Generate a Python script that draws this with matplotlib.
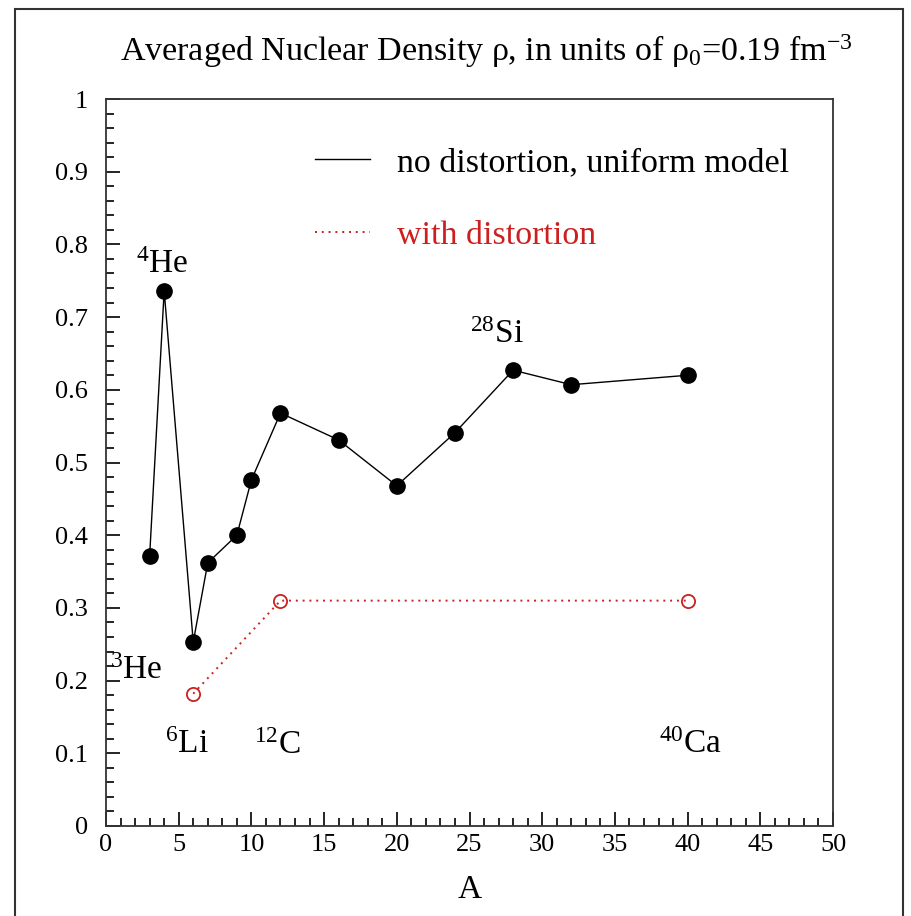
import numpy as np
import matplotlib
matplotlib.use('Agg')
import matplotlib.pyplot as plt
from matplotlib.lines import Line2D
from matplotlib.ticker import MultipleLocator

plt.rcParams['font.family'] = ['Liberation Serif', 'DejaVu Serif']
plt.rcParams['mathtext.fontset'] = 'custom'
plt.rcParams['mathtext.rm'] = 'Liberation Serif'
plt.rcParams['mathtext.it'] = 'Liberation Serif:italic'

# data
A_uniform = [3, 4, 6, 7, 9, 10, 12, 16, 20, 24, 28, 32, 40]
rho_uniform = [0.371, 0.736, 0.253, 0.362, 0.400, 0.476, 0.568, 0.531, 0.468, 0.541, 0.627, 0.607, 0.620]
A_distort = [6, 12, 40]
rho_distort = [0.182, 0.310, 0.310]

nuclei = ['$^{4}$He', '$^{3}$He', '$^{6}$Li', '$^{12}$C', '$^{28}$Si', '$^{40}$Ca']
label_A = [2.06, 0.28, 4.06, 10.18, 25.0, 38.03]
label_rho = [0.761, 0.202, 0.100, 0.099, 0.665, 0.100]

red = '#cc2020'

fig = plt.figure(figsize=(9.11, 9.16), dpi=100)
ax = fig.add_axes([106/911, 1-826/916, 727/911, 727/916])

ax.plot(A_uniform, rho_uniform, color='black', lw=1.0, marker='o', ms=11,
        mfc='black', mec='black')
ax.plot(A_distort, rho_distort, color=red, lw=1.4, ls=(0, (1, 2.5)), marker='o',
        ms=9.5, mfc='none', mec=red, mew=1.3)

for t, x, y in zip(nuclei, label_A, label_rho):
    ax.text(x, y, t, fontsize=24, ha='left', va='baseline')

ax.set_xlim(0, 50)
ax.set_ylim(0, 1)
ax.xaxis.set_major_locator(MultipleLocator(5))
ax.xaxis.set_minor_locator(MultipleLocator(1))
ax.yaxis.set_major_locator(MultipleLocator(0.1))
ax.yaxis.set_minor_locator(MultipleLocator(0.02))
ax.set_yticks(np.arange(0, 1.01, 0.1))
ax.set_yticklabels(['0'] + ['%.1f' % v for v in np.arange(0.1, 0.95, 0.1)] + ['1'])
ax.tick_params(which='both', direction='in', top=False, right=False, width=1.2,
               labelsize=19)
ax.tick_params(which='major', length=10)
ax.tick_params(which='minor', length=5.5)
ax.tick_params(axis='y', pad=13)
ax.tick_params(axis='x', pad=6)
for s in ax.spines.values():
    s.set_linewidth(1.3)
    s.set_color('#333333')

ax.set_xlabel('A', fontsize=24, labelpad=13)

fig.text(486/911, 1-61/916, 'Averaged Nuclear Density ρ, in units of ρ$_0$=0.19 fm$^{-3}$',
         fontsize=24.5, ha='center', va='baseline')

handles = [Line2D([], [], color='black', lw=1.0),
           Line2D([], [], color=red, lw=1.4, ls=(0, (1, 2.5)))]
leg = ax.legend(handles, ['no distortion, uniform model', 'with distortion'],
                loc='upper left', bbox_to_anchor=(14.4/50, 0.934), frameon=False,
                fontsize=24.5, handlelength=1.6, handletextpad=0.8, labelspacing=1.24,
                borderpad=0, borderaxespad=0)
leg.get_texts()[1].set_color(red)

# outer frame of the picture
fig.patches.append(plt.Rectangle((15/911, -0.01), (903-15)/911, 1.01-9/916,
                                 transform=fig.transFigure, fill=False,
                                 edgecolor='#333333', lw=1.5))

fig.savefig('out.png', dpi=100)
